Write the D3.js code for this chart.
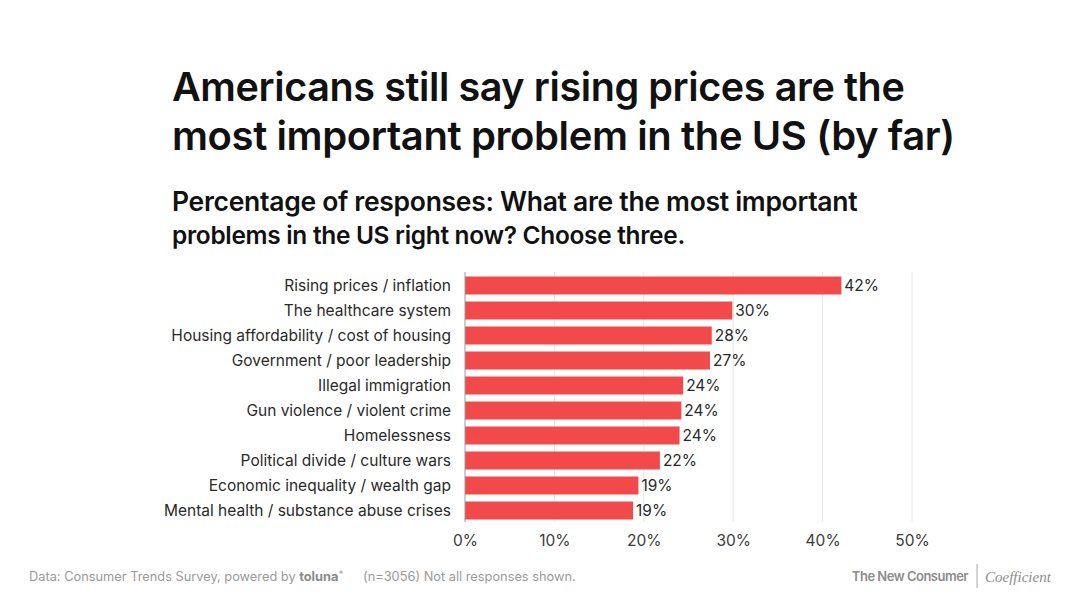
<!DOCTYPE html>
<html lang="en">
<head>
  <meta charset="UTF-8" />
  <script src="https://d3js.org/d3.v7.min.js"></script>
  <style>
    body { margin: 0; background: #fff; }
    svg { display: block; font-family: Inter, "Noto Sans", sans-serif; }
  </style>
</head>
<body>
  <div id="chart"></div>

  <script>
    const categories = [
      "Rising prices / inflation",
      "The healthcare system",
      "Housing affordability / cost of housing",
      "Government / poor leadership",
      "Illegal immigration",
      "Gun violence / violent crime",
      "Homelessness",
      "Political divide / culture wars",
      "Economic inequality / wealth gap",
      "Mental health / substance abuse crises"
    ];
    const values = [42.1, 29.9, 27.6, 27.4, 24.4, 24.2, 24.0, 21.8, 19.4, 18.8];
    const ticks = [0, 10, 20, 30, 40, 50];
    const titleLines = [
      "Americans still say rising prices are the",
      "most important problem in the US (by far)"
    ];
    const subtitleLines = [
      "Percentage of responses: What are the most important",
      "problems in the US right now? Choose three."
    ];

    const W = 1080, H = 608;
    const svg = d3.select("#chart").append("svg").attr("width", W).attr("height", H);

    // squeeze / stretch a text line so it spans a given width
    function fitText(sel, targetW) {
      const w = sel.node().getComputedTextLength();
      const fs = parseFloat(sel.attr("font-size"));
      sel.attr("font-size", (fs * targetW / w).toFixed(2));
    }

    // Title
    const titleW = [731, 781];
    titleLines.forEach((t, i) => {
      const el = svg.append("text")
        .attr("x", 172).attr("y", 101 + i * 49)
        .attr("font-size", 36).attr("font-weight", 600)
        .attr("fill", "#111").attr("letter-spacing", -0.4)
        .text(t);
      fitText(el, titleW[i]);
    });

    // Subtitle
    const subW = [684, 513];
    subtitleLines.forEach((t, i) => {
      const el = svg.append("text")
        .attr("x", 172).attr("y", 211 + i * 33)
        .attr("font-size", 24).attr("font-weight", 600)
        .attr("fill", "#111").attr("letter-spacing", -0.3)
        .text(t);
      fitText(el, subW[i]);
    });

    // Plot
    const x0 = 465, x1 = 912, yTop = 272, yBot = 522;
    const fs = 15.5;
    const x = d3.scaleLinear().domain([0, 50]).range([x0, x1]);
    const y = d3.scaleBand().domain(categories).range([273, 523]).paddingInner(0.28).paddingOuter(0.14);

    const g = svg.append("g");

    g.selectAll(".grid")
      .data(ticks.filter(d => d > 0)).enter().append("line")
      .attr("x1", d => x(d)).attr("x2", d => x(d))
      .attr("y1", yTop).attr("y2", yBot)
      .attr("stroke", "#e6e6e6").attr("stroke-width", 1);

    g.selectAll("rect")
      .data(values).enter().append("rect")
      .attr("x", x(0))
      .attr("y", (d, i) => y(categories[i]))
      .attr("width", d => x(d) - x(0))
      .attr("height", y.bandwidth())
      .attr("fill", "#f24a4a");

    g.append("line")
      .attr("x1", x(0)).attr("x2", x(0))
      .attr("y1", yTop).attr("y2", yBot)
      .attr("stroke", "#999").attr("stroke-width", 1);

    // category labels
    g.selectAll(".cat")
      .data(categories).enter().append("text")
      .attr("x", 451)
      .attr("y", d => y(d) + y.bandwidth() / 2)
      .attr("dy", "0.36em")
      .attr("text-anchor", "end")
      .attr("font-size", fs)
      .attr("fill", "#2a2a2a")
      .text(d => d);

    // value labels
    g.selectAll(".val")
      .data(values).enter().append("text")
      .attr("x", d => x(d) + 3)
      .attr("y", (d, i) => y(categories[i]) + y.bandwidth() / 2)
      .attr("dy", "0.36em")
      .attr("font-size", fs)
      .attr("fill", "#2a2a2a")
      .text(d => Math.round(d) + "%");

    // x axis tick labels
    const axis = g.append("g")
      .attr("transform", `translate(0,${yBot})`)
      .call(d3.axisBottom(x).tickValues(ticks).tickFormat(d => d + "%").tickSize(0).tickPadding(13));
    axis.select(".domain").remove();
    axis.selectAll("text")
      .attr("font-size", fs)
      .attr("font-family", "Inter, 'Noto Sans', sans-serif")
      .attr("fill", "#3a3a3a");

    // Footer
    const foot = svg.append("text")
      .attr("x", 29).attr("y", 581)
      .attr("font-size", 12.8).attr("fill", "#9a9a9a");
    foot.append("tspan").text("Data: Consumer Trends Survey, powered by ");
    foot.append("tspan").attr("font-weight", 700).attr("fill", "#8a8a8a").text("toluna");
    foot.append("tspan").attr("font-size", 10).attr("dy", -3).attr("fill", "#aaa").text("*");
    svg.append("text")
      .attr("x", 363).attr("y", 581)
      .attr("font-size", 12.8).attr("fill", "#9a9a9a")
      .text("(n=3056) Not all responses shown.");

    svg.append("text")
      .attr("x", 968).attr("y", 581)
      .attr("text-anchor", "end")
      .attr("font-size", 13).attr("font-weight", 600)
      .attr("letter-spacing", -0.5)
      .attr("fill", "#8c8c8c")
      .text("The New Consumer");
    svg.append("line")
      .attr("x1", 977).attr("x2", 977).attr("y1", 564).attr("y2", 588)
      .attr("stroke", "#aaa").attr("stroke-width", 1);
    svg.append("text")
      .attr("x", 985).attr("y", 582)
      .attr("font-size", 15)
      .attr("font-family", "'Liberation Serif', 'DejaVu Serif', serif")
      .attr("font-style", "italic")
      .attr("fill", "#8c8c8c")
      .text("Coefficient");
  </script>
</body>
</html>
